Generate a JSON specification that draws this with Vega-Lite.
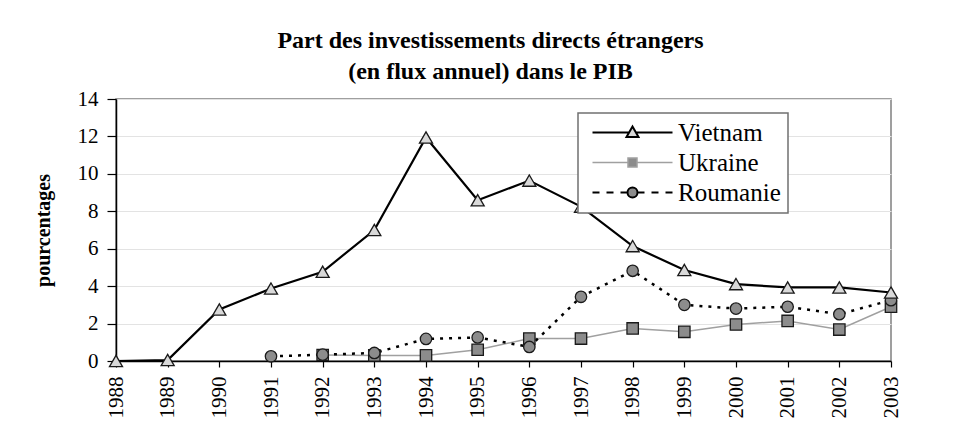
{
  "$schema": "https://vega.github.io/schema/vega-lite/v6.json",
  "width": 775,
  "height": 262,
  "autosize": {"type": "none"},
  "padding": {"left": 116, "top": 99, "right": 64, "bottom": 78},
  "background": "white",
  "config": {
    "font": "Liberation Serif",
    "view": {"stroke": "#808080", "strokeWidth": 1.5},
    "axis": {"labelFont": "Liberation Serif", "titleFont": "Liberation Serif", "labelColor": "black", "titleColor": "black"}
  },
  "title": {
    "text": ["Part des investissements directs étrangers", "(en flux annuel) dans le PIB"],
    "font": "Liberation Serif",
    "fontSize": 24,
    "fontWeight": "bold",
    "color": "black",
    "lineHeight": 31,
    "anchor": "middle",
    "dx": -13,
    "offset": 4
  },
  "data": {
    "values": [
      {"year": 1988, "series": "Vietnam", "value": 0},
      {"year": 1989, "series": "Vietnam", "value": 0.05},
      {"year": 1990, "series": "Vietnam", "value": 2.75},
      {"year": 1991, "series": "Vietnam", "value": 3.87},
      {"year": 1992, "series": "Vietnam", "value": 4.77},
      {"year": 1993, "series": "Vietnam", "value": 7.0},
      {"year": 1994, "series": "Vietnam", "value": 11.94},
      {"year": 1995, "series": "Vietnam", "value": 8.59},
      {"year": 1996, "series": "Vietnam", "value": 9.64},
      {"year": 1997, "series": "Vietnam", "value": 8.25},
      {"year": 1998, "series": "Vietnam", "value": 6.14},
      {"year": 1999, "series": "Vietnam", "value": 4.86},
      {"year": 2000, "series": "Vietnam", "value": 4.11},
      {"year": 2001, "series": "Vietnam", "value": 3.93},
      {"year": 2002, "series": "Vietnam", "value": 3.93},
      {"year": 2003, "series": "Vietnam", "value": 3.66},
      {"year": 1992, "series": "Ukraine", "value": 0.32},
      {"year": 1993, "series": "Ukraine", "value": 0.3},
      {"year": 1994, "series": "Ukraine", "value": 0.3},
      {"year": 1995, "series": "Ukraine", "value": 0.6},
      {"year": 1996, "series": "Ukraine", "value": 1.2},
      {"year": 1997, "series": "Ukraine", "value": 1.2},
      {"year": 1998, "series": "Ukraine", "value": 1.74},
      {"year": 1999, "series": "Ukraine", "value": 1.56},
      {"year": 2000, "series": "Ukraine", "value": 1.95},
      {"year": 2001, "series": "Ukraine", "value": 2.14},
      {"year": 2002, "series": "Ukraine", "value": 1.68},
      {"year": 2003, "series": "Ukraine", "value": 2.9},
      {"year": 1991, "series": "Roumanie", "value": 0.25},
      {"year": 1992, "series": "Roumanie", "value": 0.34},
      {"year": 1993, "series": "Roumanie", "value": 0.43},
      {"year": 1994, "series": "Roumanie", "value": 1.18},
      {"year": 1995, "series": "Roumanie", "value": 1.26},
      {"year": 1996, "series": "Roumanie", "value": 0.75},
      {"year": 1997, "series": "Roumanie", "value": 3.43},
      {"year": 1998, "series": "Roumanie", "value": 4.82},
      {"year": 1999, "series": "Roumanie", "value": 3.0},
      {"year": 2000, "series": "Roumanie", "value": 2.8},
      {"year": 2001, "series": "Roumanie", "value": 2.9},
      {"year": 2002, "series": "Roumanie", "value": 2.5},
      {"year": 2003, "series": "Roumanie", "value": 3.25}
    ]
  },
  "encoding": {
    "x": {
      "field": "year",
      "type": "quantitative",
      "scale": {"domain": [1988, 2003], "nice": false, "zero": false},
      "axis": {
        "title": null,
        "values": [1988, 1989, 1990, 1991, 1992, 1993, 1994, 1995, 1996, 1997, 1998, 1999, 2000, 2001, 2002, 2003],
        "format": "d",
        "labelAngle": -90,
        "labelFontSize": 21,
        "labelPadding": 9,
        "grid": false,
        "domainColor": "black",
        "domainWidth": 1.5,
        "tickColor": "black",
        "tickSize": 6,
        "tickWidth": 1.2
      }
    },
    "y": {
      "field": "value",
      "type": "quantitative",
      "scale": {"domain": [0, 14], "nice": false},
      "axis": {
        "title": "pourcentages",
        "titleFontSize": 20,
        "titleFontWeight": "bold",
        "titlePadding": 24,
        "values": [0, 2, 4, 6, 8, 10, 12, 14],
        "labelFontSize": 21,
        "labelPadding": 9,
        "grid": true,
        "gridColor": "#e3e3e3",
        "gridWidth": 1,
        "domainColor": "black",
        "domainWidth": 1.5,
        "tickColor": "black",
        "tickSize": 9,
        "tickWidth": 1.2
      }
    }
  },
  "layer": [
    {
      "transform": [{"filter": "datum.series === 'Vietnam'"}],
      "mark": {"type": "line", "strokeWidth": 2.2},
      "encoding": {
        "color": {
          "field": "series",
          "type": "nominal",
          "scale": {"domain": ["Vietnam", "Ukraine", "Roumanie"], "range": ["black", "#a0a0a0", "black"]},
          "legend": {
            "title": null,
            "orient": "none",
            "legendX": 462,
            "legendY": 14,
            "fillColor": "white",
            "strokeColor": "#707070",
            "padding": 7,
            "symbolSize": 400,
            "symbolStrokeWidth": 1.5,
            "symbolOffset": 35,
            "labelOffset": 33,
            "labelFont": "Liberation Serif",
            "labelFontSize": 25,
            "labelColor": "black",
            "rowPadding": 4,
            "encode": {
              "legend": {"update": {"strokeWidth": {"value": 1.5}}},
              "symbols": {
                "update": {
                  "shape": {"signal": "datum.value === 'Vietnam' ? 'M-4,0H-0.34M0.34,0H4M-0.6,0.45L0,-0.6L0.6,0.45Z' : datum.value === 'Ukraine' ? 'M-4,0H-0.45M0.45,0H4M-0.45,-0.45H0.45V0.45H-0.45Z' : 'M-4,0H-3.3M-2.6,0H-1.9M-1.2,0H-0.5M0.5,0H1.2M1.9,0H2.6M3.3,0H4M-0.5,0A0.5,0.5 0 1,0 0.5,0A0.5,0.5 0 1,0 -0.5,0Z'"},
                  "fill": {"signal": "datum.value === 'Vietnam' ? '#d9d9d9' : '#8c8c8c'"},
                  "fillOpacity": {"value": 1},
                  "strokeWidth": {"signal": "datum.value === 'Ukraine' ? 1.5 : 2"},
                  "size": {"value": 400}
                }
              }
            }
          }
        }
      }
    },
    {
      "transform": [{"filter": "datum.series === 'Ukraine'"}],
      "mark": {"type": "line", "strokeWidth": 1.5, "color": "#a0a0a0"}
    },
    {
      "transform": [{"filter": "datum.series === 'Roumanie'"}],
      "mark": {"type": "line", "strokeWidth": 2.5, "color": "black", "strokeDash": [3, 6]}
    },
    {
      "transform": [{"filter": "datum.series === 'Ukraine'"}],
      "mark": {"type": "point", "shape": "square", "filled": true, "fill": "#8c8c8c", "stroke": "#1a1a1a", "strokeWidth": 1.3, "size": 130, "opacity": 1}
    },
    {
      "transform": [{"filter": "datum.series === 'Roumanie'"}],
      "mark": {"type": "point", "shape": "circle", "filled": true, "fill": "#8c8c8c", "stroke": "#1a1a1a", "strokeWidth": 1.3, "size": 130, "opacity": 1}
    },
    {
      "transform": [{"filter": "datum.series === 'Vietnam'"}],
      "mark": {"type": "point", "shape": "triangle-up", "filled": true, "fill": "#d9d9d9", "stroke": "#1a1a1a", "strokeWidth": 1.3, "size": 170, "opacity": 1}
    }
  ]
}
